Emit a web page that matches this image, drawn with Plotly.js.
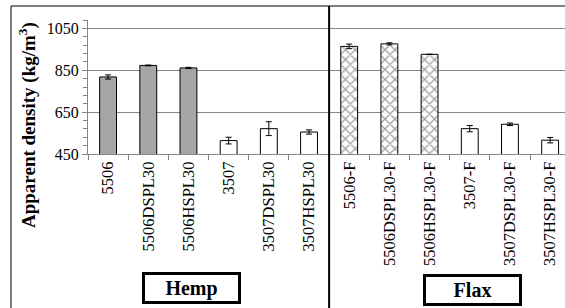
<!DOCTYPE html>
<html>
<head>
<meta charset="utf-8">
<script src="https://cdn.plot.ly/plotly-3.0.1.min.js"></script>
<style>html,body{margin:0;padding:0;background:#fff;overflow:hidden}</style>
</head>
<body>
<div id="chart" style="width:565px;height:308px"></div>
<script>
// ---- data ----
const categories = ["5506","5506DSPL30","5506HSPL30","3507","3507DSPL30","3507HSPL30",
                    "5506-F","5506DSPL30-F","5506HSPL30-F","3507-F","3507DSPL30-F","3507HSPL30-F"];
const density = [818, 873, 861, 514, 571, 555, 964, 976, 926, 571, 592, 516];
const densityErr = [10, 2, 3, 16, 33, 10, 11, 5, 0, 15, 6, 13];
const groupLabels = ["Hemp", "Flax"];
const yTicks = [450, 650, 850, 1050];
const yTitle = "Apparent density (kg/m<sup>3</sup>)";

// ---- styling ----
const W = 565, H = 308;
const L = 88, R = 0, T = 20, B = 154;
const pw = W - L - R, ph = H - T - B;
const px = x => (x - L) / pw;
const py = y => (H - B - y) / ph;

const fills = categories.map((c, i) => (i < 3 ? "#a6a6a6" : "#ffffff"));
const shapesP = categories.map((c, i) => (i >= 6 && i < 9 ? "x" : ""));

const serif = "Liberation Serif";

const trace = {
  type: "bar",
  x: categories,
  y: density,
  width: 0.42,
  marker: {
    color: fills,
    line: {color: "#000", width: 1},
    pattern: {shape: shapesP, fgcolor: "#000", bgcolor: "#fff", size: 7, solidity: 0.35, fillmode: "overlay"}
  },
  error_y: {type: "data", array: densityErr, visible: true, color: "#000", thickness: 1, width: 3},
  hoverinfo: "x+y"
};

const layout = {
  width: W, height: H,
  margin: {l: L, r: R, t: T, b: B, pad: 0},
  paper_bgcolor: "#fff", plot_bgcolor: "#fff",
  showlegend: false,
  font: {family: serif, color: "#000"},
  xaxis: {
    type: "category",
    range: [-0.5, 11.37],
    tickangle: -90,
    tickfont: {family: serif, size: 16.5, color: "#000"},
    ticks: "outside", ticklen: 5, tickcolor: "#868686", tickson: "boundaries",
    showline: true, linecolor: "#868686", linewidth: 1,
    showgrid: false, zeroline: false, automargin: false
  },
  yaxis: {
    range: [450, 1090],
    tickvals: yTicks,
    ticktext: yTicks.map(String),
    tickfont: {family: serif, size: 16, color: "#000"},
    ticks: "outside", ticklen: 5, tickcolor: "#868686",
    minor: {dtick: 40, tick0: 450, ticks: "outside", ticklen: 4, tickcolor: "#868686", showgrid: false},
    showline: true, linecolor: "#868686", linewidth: 1,
    showgrid: true, gridcolor: "#868686", gridwidth: 1,
    zeroline: false, automargin: false
  },
  shapes: [
    {type: "rect", xref: "paper", yref: "paper", x0: px(11), x1: px(W + 5), y0: py(H + 5), y1: py(6),
     line: {color: "#000", width: 1}, fillcolor: "rgba(0,0,0,0)", layer: "above"},
    {type: "line", xref: "x", yref: "paper", x0: 5.5, x1: 5.5, y0: py(H + 5), y1: py(6),
     line: {color: "#000", width: 2}, layer: "above"}
  ],
  annotations: [
    {text: "<b>" + yTitle + "</b>", xref: "paper", yref: "paper", x: px(27), y: py(125),
     xanchor: "center", yanchor: "middle", textangle: -90, showarrow: false,
     font: {family: serif, size: 19, color: "#000"}},
    {text: "<b>" + groupLabels[0] + "</b>", xref: "paper", yref: "paper", x: px(191), y: py(288),
     xanchor: "center", yanchor: "middle", showarrow: false,
     font: {family: serif, size: 20, color: "#000"},
     width: 91, height: 24, bgcolor: "#fff", bordercolor: "#000", borderwidth: 3, borderpad: 1},
    {text: "<b>" + groupLabels[1] + "</b>", xref: "paper", yref: "paper", x: px(472.5), y: py(290),
     xanchor: "center", yanchor: "middle", showarrow: false,
     font: {family: serif, size: 20, color: "#000"},
     width: 91, height: 24, bgcolor: "#fff", bordercolor: "#000", borderwidth: 3, borderpad: 1}
  ]
};

Plotly.newPlot("chart", [trace], layout, {displayModeBar: false, staticPlot: true});
</script>
</body>
</html>
